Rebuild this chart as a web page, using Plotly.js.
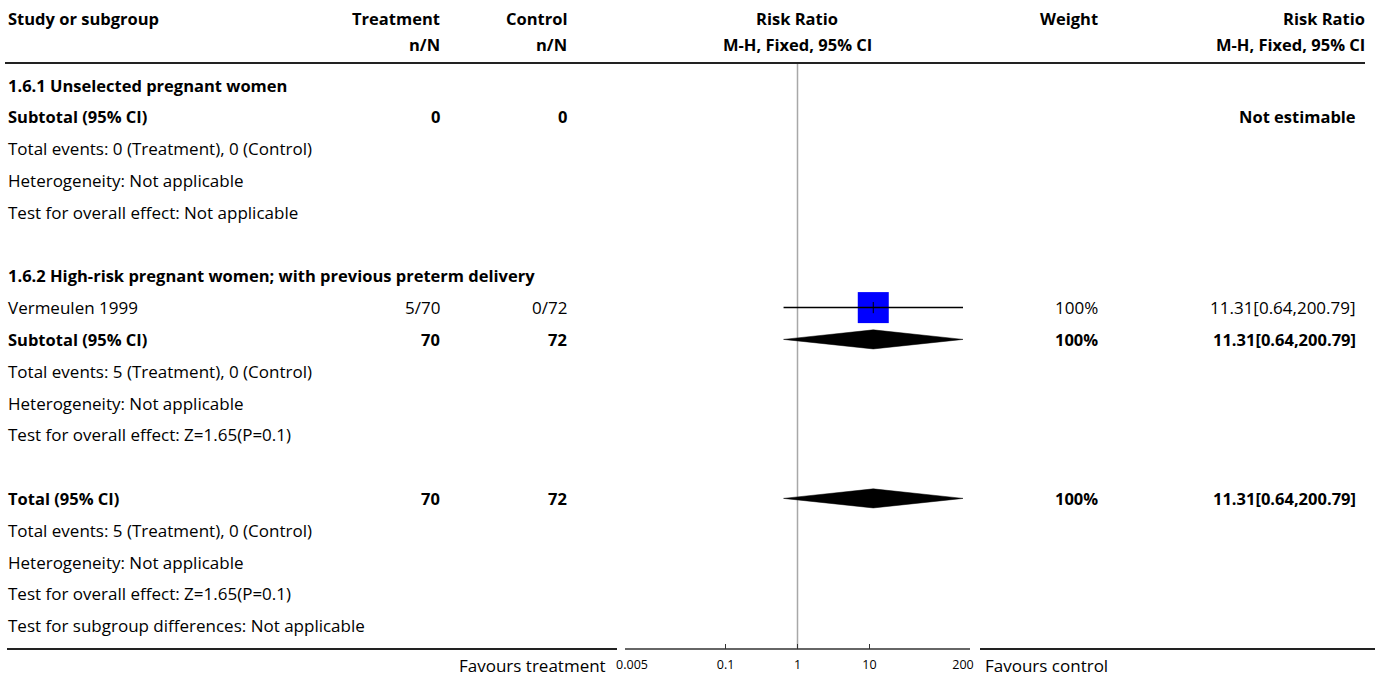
<!DOCTYPE html>
<html>
<head>
<meta charset="utf-8">
<script src="https://cdn.plot.ly/plotly-3.0.1.min.js"></script>
<style>html,body{margin:0;padding:0;background:#fff;}#chart{width:1375px;height:677px;}</style>
</head>
<body>
<div id="chart"></div>
<script>
// ---- data ----
const studyLabels = [
  "1.6.1 Unselected pregnant women",
  "Subtotal (95% CI)",
  "Total events: 0 (Treatment), 0 (Control)",
  "Heterogeneity: Not applicable",
  "Test for overall effect: Not applicable",
  "",
  "1.6.2 High-risk pregnant women; with previous preterm delivery",
  "Vermeulen 1999",
  "Subtotal (95% CI)",
  "Total events: 5 (Treatment), 0 (Control)",
  "Heterogeneity: Not applicable",
  "Test for overall effect: Z=1.65(P=0.1)",
  "",
  "Total (95% CI)",
  "Total events: 5 (Treatment), 0 (Control)",
  "Heterogeneity: Not applicable",
  "Test for overall effect: Z=1.65(P=0.1)",
  "Test for subgroup differences: Not applicable"
];
const boldRows = [1,1,0,0,0,0,1,0,1,0,0,0,0,1,0,0,0,0];
const treatmentCol = ["","0","","","","","","5/70","70","","","","","70","","","",""];
const controlCol   = ["","0","","","","","","0/72","72","","","","","72","","","",""];
const weightCol    = ["","","","","","","","100%","100%","","","","","100%","","","",""];
const rrTextCol    = ["","Not estimable","","","","","","11.31[0.64,200.79]","11.31[0.64,200.79]","","","","","11.31[0.64,200.79]","","","",""];

// study-level estimates
const studyRows = [7];
const studyRR   = [11.31];
const studyLow  = [0.64];
const studyHigh = [200.79];
// pooled estimates (diamonds)
const poolRows = [8, 13];
const poolRR   = [11.31, 11.31];
const poolLow  = [0.64, 0.64];
const poolHigh = [200.79, 200.79];

const tickVals = [0.005, 0.1, 1, 10, 200];
const tickText = ["0.005", "0.1", "1", "10", "200"];

// ---- layout helpers ----
const W = 1375, H = 677;
const ROW0 = 85, ROWH = 31.8;
const FONT = "'Open Sans', 'Noto Sans', sans-serif";
const FS = 17, FSB = 16.5;
const px = x => x / W;
const py = y => 1 - y / H;

const annotations = [];
function txt(x, yRow, text, anchor, bold) {
  if (!text) return;
  annotations.push({
    xref: "paper", yref: "y", x: px(x), y: yRow, text: bold ? "<b>" + text + "</b>" : text,
    xanchor: anchor, yanchor: "middle", showarrow: false,
    font: {family: FONT, size: bold ? FSB : FS, color: "#000"}
  });
}
function htxt(x, y, text, anchor) {
  annotations.push({
    xref: "paper", yref: "paper", x: px(x), y: py(y), text: "<b>" + text + "</b>",
    xanchor: anchor, yanchor: "middle", showarrow: false,
    font: {family: FONT, size: FSB, color: "#000"}
  });
}
// headers
htxt(6, 19, "Study or subgroup", "left");
htxt(442, 19, "Treatment", "right");
htxt(442, 45, "n/N", "right");
htxt(569, 19, "Control", "right");
htxt(569, 45, "n/N", "right");
htxt(797, 19, "Risk Ratio", "center");
htxt(797, 45, "M-H, Fixed, 95% CI", "center");
htxt(1100, 19, "Weight", "right");
htxt(1367, 19, "Risk Ratio", "right");
htxt(1367, 45, "M-H, Fixed, 95% CI", "right");

studyLabels.forEach((s, i) => {
  const b = !!boldRows[i];
  txt(6, i, s, "left", b);
  txt(442, i, treatmentCol[i], "right", b);
  txt(569, i, controlCol[i], "right", b);
  txt(1100, i, weightCol[i], "right", b);
  txt(1358, i, rrTextCol[i], "right", b);
});

// bottom labels
annotations.push({xref:"paper", yref:"paper", x: px(608), y: py(665), text: "Favours treatment",
  xanchor:"right", yanchor:"middle", showarrow:false, font:{family:FONT, size:FS, color:"#000"}});
annotations.push({xref:"paper", yref:"paper", x: px(983), y: py(665), text: "Favours control",
  xanchor:"left", yanchor:"middle", showarrow:false, font:{family:FONT, size:FS, color:"#000"}});

const shapes = [
  {type:"line", xref:"paper", yref:"paper", x0:px(5), x1:px(1365), y0:py(63), y1:py(63), line:{color:"#222", width:2}},
  {type:"line", xref:"paper", yref:"paper", x0:px(7), x1:px(617), y0:py(649), y1:py(649), line:{color:"#222", width:2}},
  {type:"line", xref:"paper", yref:"paper", x0:px(625), x1:px(970), y0:py(649), y1:py(649), line:{color:"#333", width:1.5}},
  {type:"line", xref:"paper", yref:"paper", x0:px(980), x1:px(1375), y0:py(649), y1:py(649), line:{color:"#222", width:2}},
  {type:"line", xref:"x", yref:"paper", x0:1, x1:1, y0:py(64), y1:py(648), line:{color:"#a8a8a8", width:1.5}, layer:"below"}
];

const traces = [];
// diamonds
poolRows.forEach((r, i) => {
  traces.push({
    type:"scatter", mode:"lines", fill:"toself", fillcolor:"#000",
    x:[poolLow[i], poolRR[i], poolHigh[i], poolRR[i], poolLow[i]],
    y:[r, r - 0.3, r, r + 0.3, r],
    line:{color:"#000", width:0.5}, hoverinfo:"skip", showlegend:false
  });
});
// study squares
traces.push({
  type:"scatter", mode:"markers", x: studyRR, y: studyRows,
  marker:{symbol:"square", size:31, color:"#0000ff", line:{width:0}},
  hoverinfo:"skip", showlegend:false
});
// CI lines
studyRows.forEach((r, i) => {
  traces.push({
    type:"scatter", mode:"lines", x:[studyLow[i], studyHigh[i]], y:[r, r],
    line:{color:"#000", width:1.5}, hoverinfo:"skip", showlegend:false
  });
});
// point ticks
traces.push({
  type:"scatter", mode:"markers", x: studyRR, y: studyRows,
  marker:{symbol:"line-ns", size:8, line:{color:"#000", width:1}},
  hoverinfo:"skip", showlegend:false
});

const layout = {
  width: W, height: H,
  margin: {l:0, r:0, t:0, b:0, pad:0},
  paper_bgcolor: "#fff", plot_bgcolor: "rgba(0,0,0,0)",
  showlegend: false,
  xaxis: {
    type:"log", range:[Math.log10(0.005), Math.log10(200)],
    domain:[px(632), px(963)], anchor:"free", position: py(649),
    showline:false, ticks:"inside", ticklen:5, tickcolor:"#333", tickwidth:1,
    ticklabelstandoff: 6,
    tickvals: tickVals, ticktext: tickText, showgrid:false, zeroline:false,
    tickfont:{family:FONT, size:12.5, color:"#000"}, fixedrange:true
  },
  yaxis: {
    range:[(H - ROW0) / ROWH, -ROW0 / ROWH], domain:[0,1], visible:false, fixedrange:true
  },
  annotations: annotations,
  shapes: shapes
};

Plotly.newPlot("chart", traces, layout, {staticPlot:true, displayModeBar:false});
</script>
</body>
</html>
